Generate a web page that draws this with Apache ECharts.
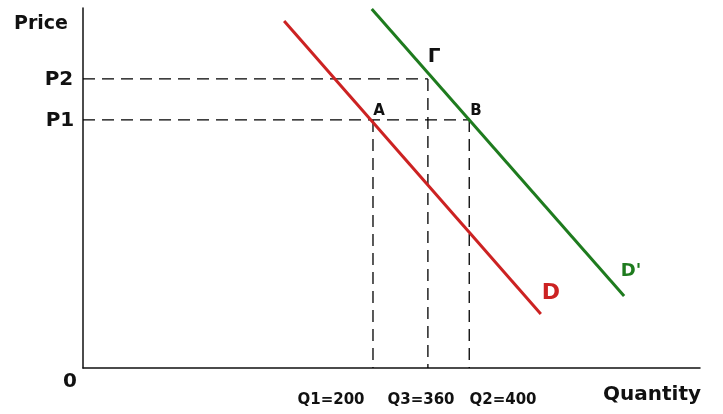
<!DOCTYPE html>
<html><head><meta charset="utf-8">
<script src="https://cdn.jsdelivr.net/npm/echarts@6/dist/echarts.min.js"></script>
<style>html,body{margin:0;padding:0;background:#fff}#c{width:723px;height:414px}</style>
</head><body><div id="c"></div>
<script>
// Abstract units (0-100 on both axes); the sketch is not drawn to scale
const demandD = [[32.6, 96.4], [74.2, 15.0]];
const demandD2 = [[46.8, 99.7], [87.7, 20.0]];
const priceLevels = {P1: 68.9, P2: 80.3};
const qPositions = {Q1: 47.0, Q3: 55.9, Q2: 62.6};
const qLabels = ['Q1=200', 'Q3=360', 'Q2=400'];

const dashStyle = {color: '#000', width: 1.3, type: [12, 7]};
const dashed = (pts) => ({type: 'line', data: pts, symbol: 'none', silent: true, lineStyle: dashStyle, clip: false});

const chart = echarts.init(document.getElementById('c'));
const ff = 'DejaVu Sans';
function txt(text, x, y, size, color) {
  return {type: 'text', x: x, y: y, style: {text: text, fill: color || '#111', font: 'bold ' + size + 'px "' + ff + '"', align: 'center', verticalAlign: 'middle'}};
}
chart.setOption({
  animation: false,
  grid: {left: 83, right: 23, top: 8, bottom: 46},
  xAxis: {type: 'value', min: 0, max: 100, axisLine: {onZero: false, lineStyle: {color: '#111', width: 1.5}}, axisTick: {show: false}, axisLabel: {show: false}, splitLine: {show: false}},
  yAxis: {type: 'value', min: 0, max: 100, axisLine: {show: true, onZero: false, lineStyle: {color: '#111', width: 1.5}}, axisTick: {show: false}, axisLabel: {show: false}, splitLine: {show: false}},
  series: [
    dashed([[0, priceLevels.P2], [qPositions.Q3, priceLevels.P2]]),
    dashed([[0, priceLevels.P1], [qPositions.Q2, priceLevels.P1]]),
    dashed([[qPositions.Q1, priceLevels.P1], [qPositions.Q1, 0]]),
    dashed([[qPositions.Q3, priceLevels.P2], [qPositions.Q3, 0]]),
    dashed([[qPositions.Q2, priceLevels.P1], [qPositions.Q2, 0]]),
    {type: 'line', name: 'D', data: demandD, symbol: 'none', clip: false, lineStyle: {color: '#cc2222', width: 3}},
    {type: 'line', name: "D'", data: demandD2, symbol: 'none', clip: false, lineStyle: {color: '#1e7b1e', width: 3}}
  ],
  graphic: [
    txt('Price', 41, 24, 19),
    txt('P2', 59, 80, 20),
    txt('P1', 60, 121, 20),
    txt('0', 70, 382, 20),
    txt('Quantity', 652, 395, 20),
    txt(qLabels[0], 331, 400, 15),
    txt(qLabels[1], 421, 400, 15),
    txt(qLabels[2], 503, 400, 15),
    txt('Γ', 434, 57, 20),
    txt('A', 379, 111, 15),
    txt('B', 476, 111, 15),
    txt('D', 551, 293, 22, '#cc2222'),
    txt("D'", 631, 271, 18, '#1e7b1e')
  ]
});
</script></body></html>
